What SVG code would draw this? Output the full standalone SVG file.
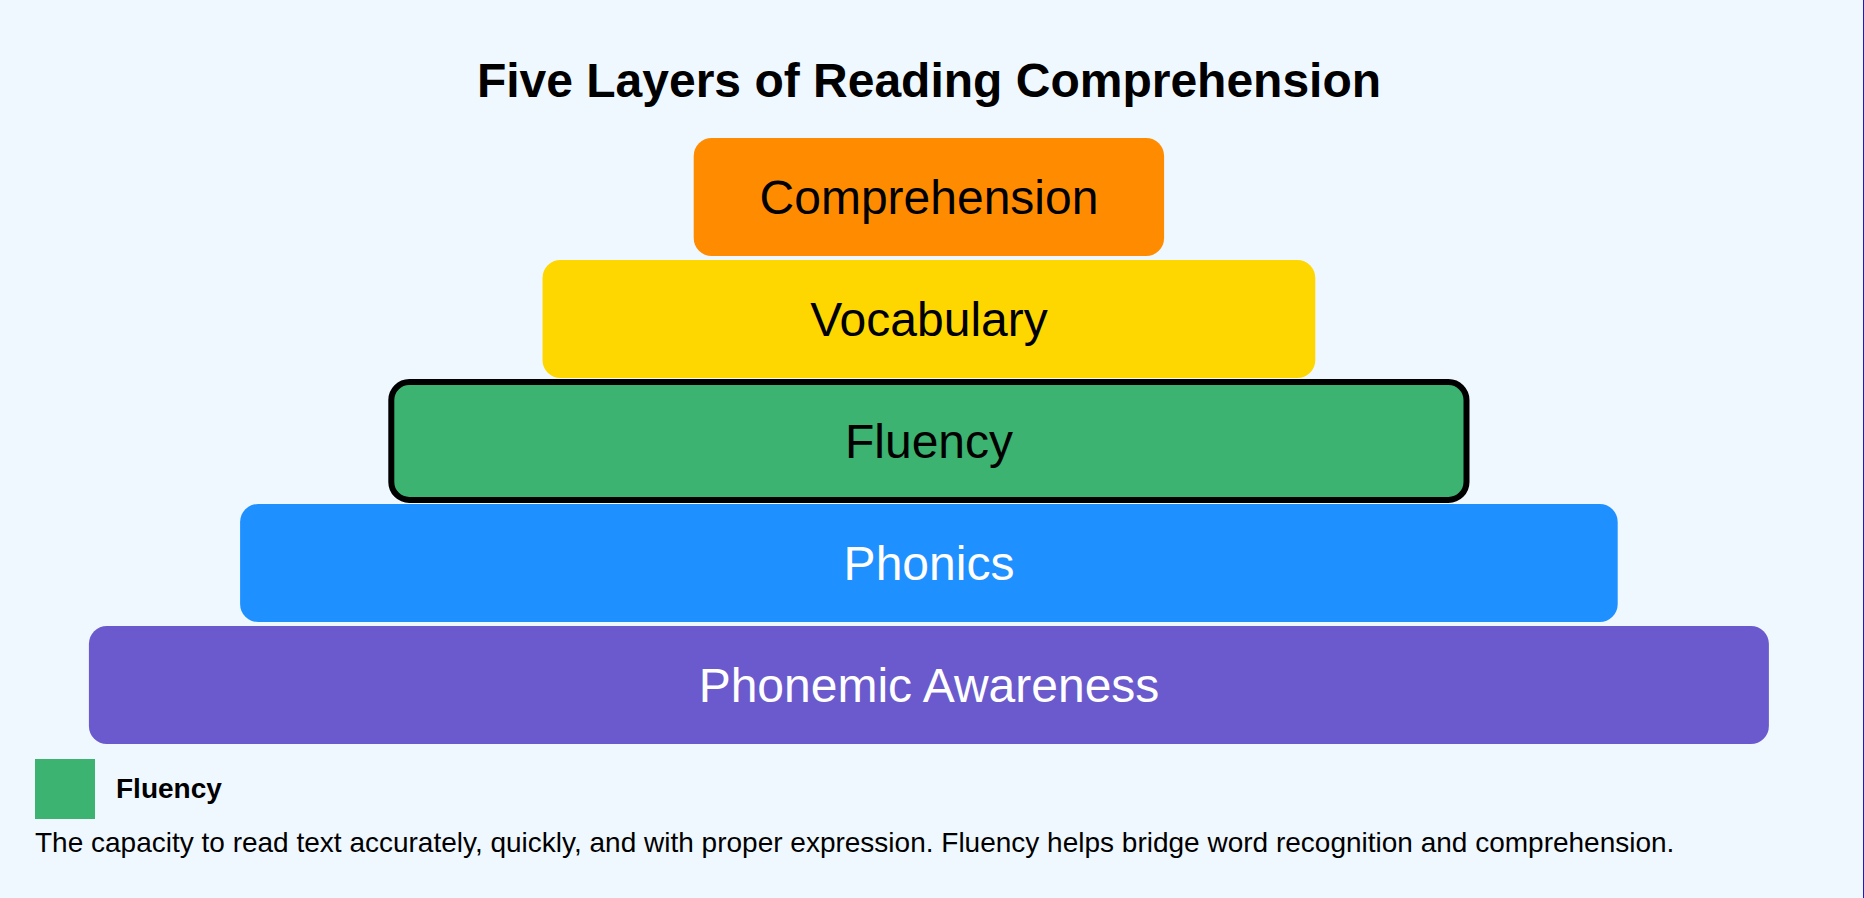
<svg xmlns="http://www.w3.org/2000/svg" width="1864" height="898" viewBox="0 0 1864 898">
<style>
.title{font-family:"Liberation Sans",Arial,Helvetica,sans-serif;font-size:48px;font-weight:bold;fill:#000;text-anchor:middle}
.lbl{font-family:"Liberation Sans",Arial,Helvetica,sans-serif;font-size:48px;text-anchor:middle}
.dark{fill:#000}
.light{fill:#fff}
.legtitle{font-family:"Liberation Sans",Arial,Helvetica,sans-serif;font-size:28px;font-weight:bold;fill:#000}
.legdesc{font-family:"Liberation Sans",Arial,Helvetica,sans-serif;font-size:28px;fill:#000}
</style>
<rect x="0" y="0" width="1864" height="898" fill="#F0F8FF"/>
<rect x="1863" y="0" width="1" height="898" fill="#1a1ad0"/>
<text class="title" x="929" y="97">Five Layers of Reading Comprehension</text>
<g id="connectors"></g>
<g id="layer-comprehension">
<rect x="693.7" y="138" width="470.4" height="118" rx="18" fill="#FF8C00"/>
<text class="lbl dark" x="929" y="214">Comprehension</text>
</g>
<g id="layer-vocabulary">
<rect x="542.5" y="260" width="772.8" height="118" rx="18" fill="#FFD700"/>
<text class="lbl dark" x="929" y="336">Vocabulary</text>
</g>
<g id="layer-fluency">
<rect x="391.3" y="382" width="1075.2" height="118" rx="18" fill="#3CB371" stroke="#000" stroke-width="6"/>
<text class="lbl dark" x="929" y="458">Fluency</text>
</g>
<g id="layer-phonics">
<rect x="240.1" y="504" width="1377.6" height="118" rx="18" fill="#1E90FF"/>
<text class="lbl light" x="929" y="580">Phonics</text>
</g>
<g id="layer-phonemic">
<rect x="88.9" y="626" width="1680" height="118" rx="18" fill="#6A5ACD"/>
<text class="lbl light" x="929" y="702">Phonemic Awareness</text>
</g>
<g id="legend">
<rect x="35" y="759" width="60" height="60" fill="#3CB371"/>
<text class="legtitle" x="116" y="798">Fluency</text>
<text class="legdesc" x="35" y="852">The capacity to read text accurately, quickly, and with proper expression. Fluency helps bridge word recognition and comprehension.</text>
</g>
</svg>
